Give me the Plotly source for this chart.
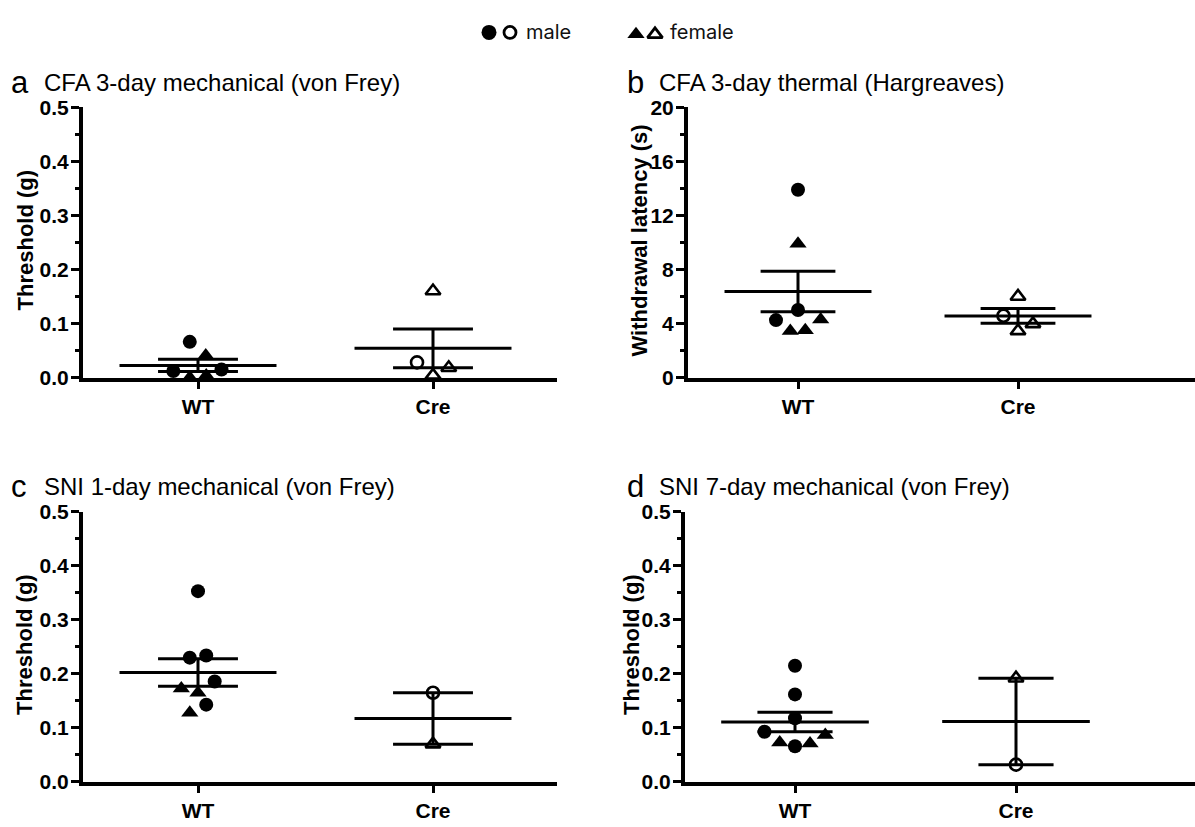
import plotly.graph_objects as go

# ---------------- data ----------------
GROUPS = ["WT", "Cre"]

# a  CFA 3-day mechanical (von Frey), threshold (g)
A_WT_MALE = [0.066, 0.012, 0.015]
A_WT_FEMALE = [0.041, 0.000, 0.004]
A_CRE_MALE = [0.028]
A_CRE_FEMALE = [0.160, 0.018, 0.004]
A_MEAN = [0.0225, 0.054]
A_SEM = [0.0115, 0.036]

# b  CFA 3-day thermal (Hargreaves), withdrawal latency (s)
B_WT_MALE = [13.9, 5.0, 4.25]
B_WT_FEMALE = [9.9, 3.45, 3.5, 4.3]
B_CRE_MALE = [4.57]
B_CRE_FEMALE = [6.0, 3.97, 3.45]
B_MEAN = [6.36, 4.56]
B_SEM = [1.50, 0.54]

# c  SNI 1-day mechanical (von Frey), threshold (g)
C_WT_MALE = [0.353, 0.230, 0.234, 0.186, 0.143]
C_WT_FEMALE = [0.173, 0.165, 0.128]
C_CRE_MALE = [0.165]
C_CRE_FEMALE = [0.070]
C_MEAN = [0.2025, 0.1175]
C_SEM = [0.0255, 0.0475]

# d  SNI 7-day mechanical (von Frey), threshold (g)
D_WT_MALE = [0.215, 0.162, 0.118, 0.093, 0.066]
D_WT_FEMALE = [0.073, 0.071, 0.087]
D_CRE_MALE = [0.032]
D_CRE_FEMALE = [0.192]
D_MEAN = [0.111, 0.112]
D_SEM = [0.018, 0.080]

TITLES = ["CFA 3-day mechanical (von Frey)", "CFA 3-day thermal (Hargreaves)",
          "SNI 1-day mechanical (von Frey)", "SNI 7-day mechanical (von Frey)"]
LETTERS = ["a", "b", "c", "d"]
YTITLES = ["Threshold (g)", "Withdrawal latency (s)", "Threshold (g)", "Threshold (g)"]

# ---------------- layout helpers (scatter spreading, not data) ----------------
JITTER = {
    "a": dict(wm=[-0.035, -0.105, 0.10], wf=[0.033, -0.035, 0.035], cm=[-0.068], cf=[0.0, 0.067, 0.0]),
    "b": dict(wm=[0.0, 0.0, -0.10], wf=[0.0, -0.035, 0.033, 0.103], cm=[-0.066], cf=[0.0, 0.068, 0.0]),
    "c": dict(wm=[0.0, -0.035, 0.035, 0.071, 0.035], wf=[-0.071, 0.0, -0.035], cm=[0.0], cf=[0.0]),
    "d": dict(wm=[0.0, 0.0, 0.0, -0.138, 0.0], wf=[-0.069, 0.068, 0.137], cm=[0.0], cf=[0.0]),
}

W, H = 1195, 827
MEAN_HALF = 0.334
SEM_HALF = 0.17
BLACK = "black"
SANS = "Liberation Sans, Arial, sans-serif"
TICK_FONT = dict(family=SANS, size=21, color=BLACK, weight="bold")

panels = [
    dict(key="a", wm=A_WT_MALE, wf=A_WT_FEMALE, cm=A_CRE_MALE, cf=A_CRE_FEMALE, mean=A_MEAN, sem=A_SEM),
    dict(key="b", wm=B_WT_MALE, wf=B_WT_FEMALE, cm=B_CRE_MALE, cf=B_CRE_FEMALE, mean=B_MEAN, sem=B_SEM),
    dict(key="c", wm=C_WT_MALE, wf=C_WT_FEMALE, cm=C_CRE_MALE, cf=C_CRE_FEMALE, mean=C_MEAN, sem=C_SEM),
    dict(key="d", wm=D_WT_MALE, wf=D_WT_FEMALE, cm=D_CRE_MALE, cf=D_CRE_FEMALE, mean=D_MEAN, sem=D_SEM),
]

# pixel geometry of each panel: y-axis x, right end, WT x, Cre x, top y, bottom y
GEOM = [
    dict(x0=83, x1=557, wt=198, cre=433, top=98, bot=376),
    dict(x0=688, x1=1195, wt=798, cre=1018, top=98, bot=376),
    dict(x0=83, x1=557, wt=198, cre=433, top=514, bot=792),
    dict(x0=685, x1=1195, wt=795, cre=1016, top=514, bot=792),
]
YAX = [
    dict(range=[0, 0.5], dtick=0.1, minor=0.05, fmt=".1f"),
    dict(range=[0, 20], dtick=4, minor=2, fmt="d"),
    dict(range=[0, 0.5], dtick=0.1, minor=0.05, fmt=".1f"),
    dict(range=[0, 0.5], dtick=0.1, minor=0.05, fmt=".1f"),
]

fig = go.Figure()
layout = {}
annotations = []

for i, (p, g, ya) in enumerate(zip(panels, GEOM, YAX)):
    n = "" if i == 0 else str(i + 1)
    xref, yref = "x" + n, "y" + n
    unit = (g["cre"] - g["wt"])
    rmin = -(g["wt"] - g["x0"]) / unit
    rmax = (g["x1"] - g["wt"]) / unit
    layout["xaxis" + n] = dict(
        domain=[g["x0"] / W, g["x1"] / W], range=[rmin, rmax], anchor=yref,
        tickmode="array", tickvals=[0, 1], ticktext=GROUPS,
        ticks="outside", ticklen=7, tickwidth=3, tickcolor=BLACK,
        showline=True, linewidth=4, linecolor=BLACK, showgrid=False, zeroline=False,
        tickfont=TICK_FONT, layer="below traces", fixedrange=True,
    )
    layout["yaxis" + n] = dict(
        domain=[1 - g["bot"] / H, 1 - g["top"] / H], range=ya["range"], anchor=xref,
        tick0=0, dtick=ya["dtick"], tickformat=ya["fmt"],
        ticks="outside", ticklen=8, tickwidth=3, tickcolor=BLACK,
        minor=dict(dtick=ya["minor"], tick0=0, ticks="outside", ticklen=4, tickwidth=3,
                   tickcolor=BLACK, showgrid=False),
        showline=True, linewidth=4, linecolor=BLACK, showgrid=False, zeroline=False,
        tickfont=TICK_FONT, ticklabelstandoff=-2, layer="below traces", fixedrange=True,
    )

    # mean and SEM lines
    lx, ly = [], []
    for gi in range(2):
        m, s = p["mean"][gi], p["sem"][gi]
        lx += [gi - MEAN_HALF, gi + MEAN_HALF, None,
               gi - SEM_HALF, gi + SEM_HALF, None,
               gi - SEM_HALF, gi + SEM_HALF, None,
               gi, gi, None]
        ly += [m, m, None, m + s, m + s, None, m - s, m - s, None, m - s, m + s, None]
    fig.add_trace(go.Scatter(x=lx, y=ly, mode="lines", line=dict(color=BLACK, width=3),
                             xaxis=xref, yaxis=yref, showlegend=False, hoverinfo="skip",
                             cliponaxis=False))

    j = JITTER[p["key"]]
    specs = [
        ("wm", 0, "circle", 14, 0),
        ("wf", 0, "triangle-up", 15, 0),
        ("cm", 1, "circle-open", 12, 2.6),
        ("cf", 1, "triangle-up-open", 13, 2.6),
    ]
    for k, gi, sym, size, lw in specs:
        vals = p[k]
        xs = [gi + o for o in j[k]]
        fig.add_trace(go.Scatter(
            x=xs, y=vals, mode="markers", xaxis=xref, yaxis=yref, showlegend=False,
            marker=dict(symbol=sym, size=size, color=BLACK, line=dict(width=lw, color=BLACK)),
            cliponaxis=False, hoverinfo="y"))

    # panel letter, title and y-axis title
    ty = [73, 73, 488, 488][i]
    lx0 = [20, 635, 19, 635][i]
    tx0 = [42, 657, 42, 657][i]
    annotations.append(dict(text=LETTERS[i], x=lx0 / W, y=1 - ty / H, xref="paper", yref="paper",
                            xanchor="center", yanchor="middle", showarrow=False,
                            font=dict(family=SANS, size=31, color=BLACK)))
    annotations.append(dict(text=TITLES[i], x=tx0 / W, y=1 - ty / H, xref="paper", yref="paper",
                            xanchor="left", yanchor="middle", showarrow=False,
                            font=dict(family=SANS, size=24, color=BLACK)))
    ytx = [25, 639, 25, 632][i]
    annotations.append(dict(text=YTITLES[i], x=ytx / W, y=1 - ((g["top"] + g["bot"]) / 2 - 2) / H,
                            xref="paper", yref="paper", xanchor="center", yanchor="middle",
                            textangle=-90, showarrow=False,
                            font=dict(family=SANS, size=22, color=BLACK, weight="bold")))

# ---------------- top key (male / female) ----------------
KEY_SYMBOLS = ["circle", "circle-open", "triangle-up", "triangle-up-open"]
KEY_X = [489, 510, 636, 655]
KEY_Y = 21
KY0, KY1 = 0, 42
layout["xaxis5"] = dict(domain=[0, 1], range=[0, W], visible=False, fixedrange=True, anchor="y5")
layout["yaxis5"] = dict(domain=[1 - KY1 / H, 1 - KY0 / H], range=[KY1, KY0], visible=False,
                        fixedrange=True, anchor="x5")
for sym, kx in zip(KEY_SYMBOLS, KEY_X):
    is_open = sym.endswith("open")
    if sym.startswith("circle"):
        size = 12 if is_open else 15
    else:
        size = 13 if is_open else 15
    fig.add_trace(go.Scatter(
        x=[kx], y=[KEY_Y + (2 if sym.startswith("triangle") else 0)], mode="markers",
        xaxis="x5", yaxis="y5", showlegend=False, hoverinfo="skip", cliponaxis=False,
        marker=dict(symbol=sym, size=size, color=BLACK,
                    line=dict(width=2.8 if is_open else 0, color=BLACK))))
for txt, tx in [("male", 524), ("female", 668)]:
    annotations.append(dict(text=txt, x=tx / W, y=1 - KEY_Y / H, xref="paper", yref="paper",
                            xanchor="left", yanchor="middle", showarrow=False,
                            font=dict(family="Inter, Roboto, sans-serif", size=20, color="#111111")))

fig.update_layout(
    width=W, height=H, margin=dict(l=0, r=0, t=0, b=0),
    paper_bgcolor="white", plot_bgcolor="rgba(0,0,0,0)",
    annotations=annotations, showlegend=False, **layout,
)

fig.write_html(
    "out.html", config={"displayModeBar": False},
    post_script=("document.documentElement.style.margin='0';"
                 "document.body.style.margin='0';document.body.style.padding='0';"
                 "var gd=document.getElementById('{plot_id}');"
                 "gd.style.position='absolute';gd.style.left='0px';gd.style.top='0px';"),
)
